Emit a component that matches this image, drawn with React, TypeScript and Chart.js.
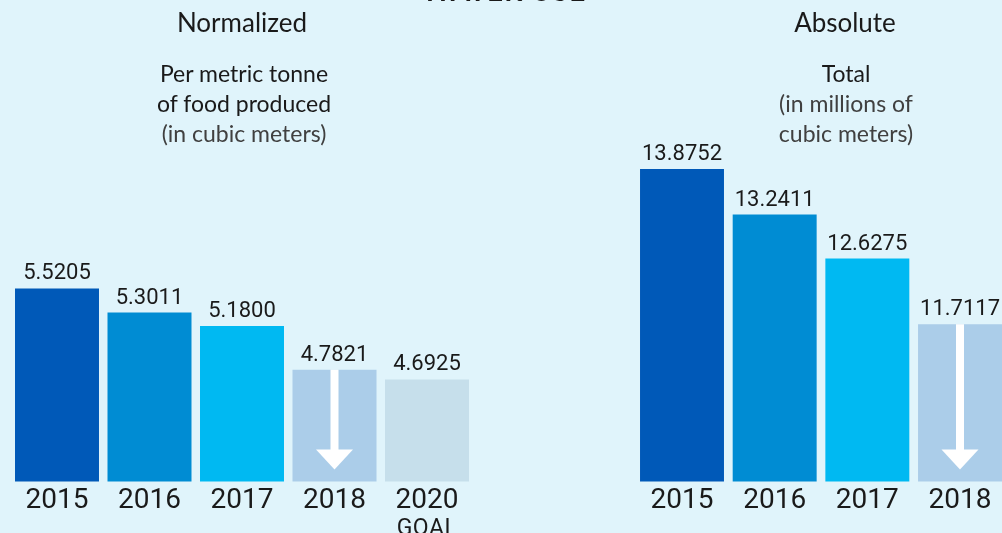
import React, { useEffect, useRef } from "react";
import { Chart, registerables } from "chart.js";

Chart.register(...registerables);

// ---- data ----
const normCategories = ["2015", "2016", "2017", "2018", "2020"];
const normSubLabels = ["", "", "", "", "GOAL"];
const normValues = [5.5205, 5.3011, 5.18, 4.7821, 4.6925];
const absCategories = ["2015", "2016", "2017", "2018"];
const absValues = [13.8752, 13.2411, 12.6275, 11.7117];
const barColors = ["#0059b8", "#008cd3", "#00b9f2", "#abcde9", "#c6dfeb"];
const arrowIndex = 3; // 2018 bar carries the downward arrow

const TEXT = "#1a1a1a";
const BG = "#e0f4fb";

const barDecorPlugin = {
  id: "barDecor",
  afterDatasetsDraw(chart: any, _args: any, opts: any) {
    const ctx = chart.ctx;
    const meta = chart.getDatasetMeta(0);
    const ds = chart.data.datasets[0];
    const base = chart.chartArea.bottom;
    ctx.save();
    meta.data.forEach((bar: any, i: number) => {
      const v = ds.data[i] as number;
      if (i === opts.arrowIndex) {
        const x = bar.x;
        ctx.fillStyle = "#ffffff";
        ctx.fillRect(x - 4, bar.y, 8, base - 31 - bar.y);
        ctx.beginPath();
        ctx.moveTo(x - 18.5, base - 32);
        ctx.lineTo(x + 18.5, base - 32);
        ctx.lineTo(x, base - 12);
        ctx.closePath();
        ctx.fill();
      }
      ctx.fillStyle = TEXT;
      ctx.font = "22px Roboto";
      ctx.textAlign = "center";
      ctx.textBaseline = "alphabetic";
      ctx.fillText(v.toFixed(4), bar.x, bar.y - 9);
      const sub = opts.subLabels ? opts.subLabels[i] : "";
      if (sub) {
        ctx.font = "23px Roboto";
        try {
          (ctx as any).letterSpacing = "0.5px";
        } catch (e) {}
        ctx.fillText(sub, bar.x, base + 54);
        try {
          (ctx as any).letterSpacing = "0px";
        } catch (e) {}
      }
    });
    ctx.restore();
  },
};

function BarPanel(props: {
  labels: string[];
  values: number[];
  subLabels?: string[];
  min: number;
  max: number;
  width: number;
  padLeft: number;
  padRight: number;
  barPct: number;
}) {
  const ref = useRef<HTMLCanvasElement | null>(null);
  useEffect(() => {
    if (!ref.current) return;
    const chart = new Chart(ref.current, {
      type: "bar",
      data: {
        labels: props.labels,
        datasets: [
          {
            data: props.values,
            backgroundColor: barColors.slice(0, props.values.length),
            barPercentage: props.barPct,
            categoryPercentage: 1,
            borderWidth: 0,
          },
        ],
      },
      options: {
        animation: false,
        responsive: false,
        devicePixelRatio: 1,
        layout: {
          padding: { left: props.padLeft, right: props.padRight, top: 160, bottom: 20 },
        },
        scales: {
          x: {
            grid: { display: false },
            border: { display: false },
            ticks: {
              font: { family: "Roboto", size: 28 },
              color: TEXT,
              padding: -5,
              autoSkip: false,
              maxRotation: 0,
            },
          },
          y: { display: false, min: props.min, max: props.max },
        },
        plugins: {
          legend: { display: false },
          tooltip: { enabled: false },
          barDecor: { arrowIndex, subLabels: props.subLabels },
        } as any,
      },
      plugins: [barDecorPlugin],
    });
    return () => chart.destroy();
  }, []);
  return (
    <canvas
      ref={ref}
      width={props.width}
      height={533}
      style={{ width: props.width, height: 533, display: "block" }}
    />
  );
}

export default function App() {
  const titleFont = "Lato, 'Open Sans', sans-serif";
  const sub = { color: "#404040", fontWeight: 400 };
  return (
    <div
      style={{
        position: "fixed",
        left: 0,
        top: 0,
        width: 1002,
        height: 533,
        overflow: "hidden",
        background: BG,
        fontFamily: titleFont,
        color: TEXT,
      }}
    >
      <div style={{ position: "absolute", left: 0, top: 0 }}>
        <BarPanel
          labels={normCategories}
          values={normValues}
          subLabels={normSubLabels}
          min={3.7655}
          max={6.689}
          width={484}
          padLeft={10.75}
          padRight={10.75}
          barPct={0.908}
        />
      </div>
      <div style={{ position: "absolute", left: 620, top: 0 }}>
        <BarPanel
          labels={absCategories}
          values={absValues}
          min={9.5194}
          max={14.002}
          width={400}
          padLeft={15.67}
          padRight={13.66}
          barPct={0.906}
        />
      </div>

      <div
        style={{
          position: "absolute",
          left: 304,
          width: 400,
          top: -24,
          textAlign: "center",
          fontSize: 28,
          lineHeight: "28px",
          fontWeight: 700,
          letterSpacing: 1,
        }}
      >
        WATER USE
      </div>

      <div
        style={{
          position: "absolute",
          left: 42,
          width: 400,
          top: 9,
          textAlign: "center",
          fontSize: 26,
          lineHeight: "26px",
        }}
      >
        Normalized
      </div>
      <div
        style={{
          position: "absolute",
          left: 44,
          width: 400,
          top: 58,
          textAlign: "center",
          fontSize: 23,
          lineHeight: "30px",
        }}
      >
        <div>Per metric tonne</div>
        <div>of food produced</div>
        <div style={sub}>(in cubic meters)</div>
      </div>

      <div
        style={{
          position: "absolute",
          left: 645,
          width: 400,
          top: 9,
          textAlign: "center",
          fontSize: 26,
          lineHeight: "26px",
        }}
      >
        Absolute
      </div>
      <div
        style={{
          position: "absolute",
          left: 646,
          width: 400,
          top: 58,
          textAlign: "center",
          fontSize: 23,
          lineHeight: "30px",
        }}
      >
        <div>Total</div>
        <div style={sub}>(in millions of</div>
        <div style={sub}>cubic meters)</div>
      </div>
    </div>
  );
}
